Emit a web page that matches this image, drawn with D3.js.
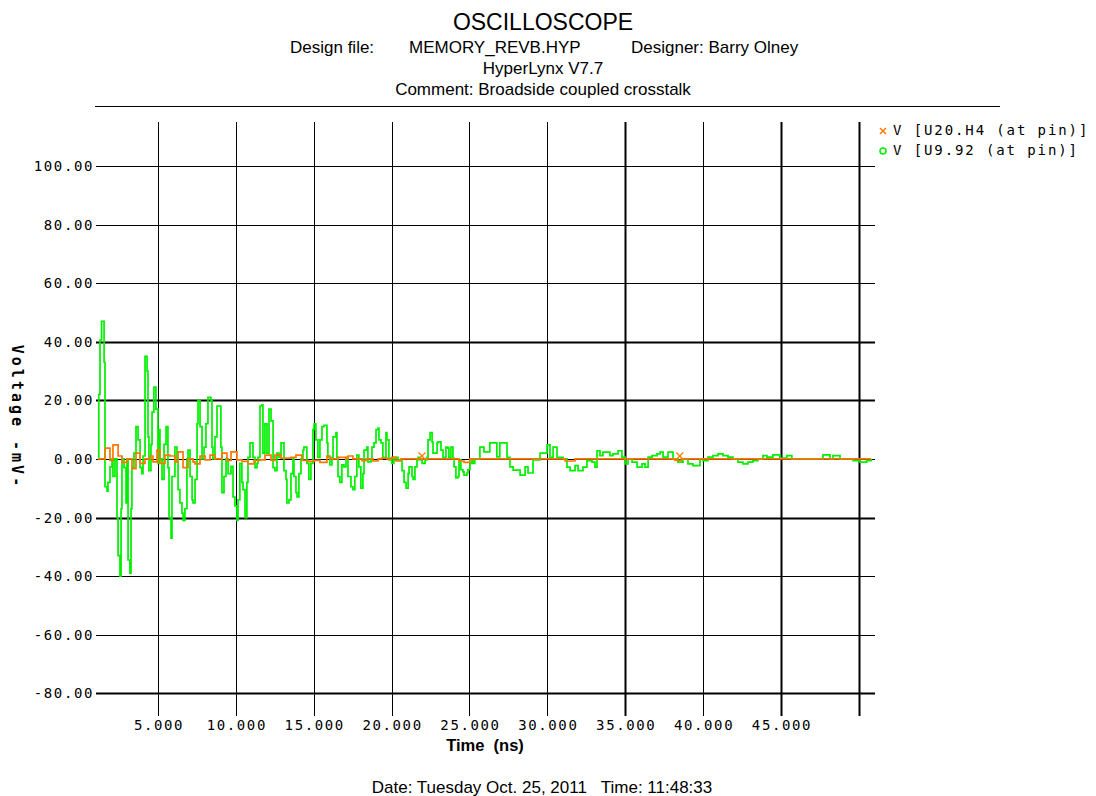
<!DOCTYPE html>
<html>
<head>
<meta charset="utf-8">
<script src="https://cdn.jsdelivr.net/npm/d3@7/dist/d3.min.js"></script>
<style>
  html, body { margin: 0; padding: 0; background: #fff; }
  svg { display: block; }
  .hdr { font-family: "Liberation Sans", Arial, sans-serif; fill: #000; }
  .mono { font-family: "DejaVu Sans Mono", "Liberation Mono", monospace; fill: #000; }
</style>
</head>
<body>
<svg id="chart" width="1096" height="796"></svg>
<script>
// ---------------- data ----------------
const yTicks = [100, 80, 60, 40, 20, 0, -20, -40, -60, -80];
const yTickLabels = ["100.00", "80.00", "60.00", "40.00", "20.00", "0.00", "-20.00", "-40.00", "-60.00", "-80.00"];
const xTicks = [5, 10, 15, 20, 25, 30, 35, 40, 45, 50];
const xTickLabels = ["5.000", "10.000", "15.000", "20.000", "25.000", "30.000", "35.000", "40.000", "45.000", ""];
const thickY = [40, 20, -20, -80];
const thickX = [35, 45, 50];

const seriesNames = ["V [U20.H4 (at pin)]", "V [U9.92 (at pin)]"];

// green: V [U9.92 (at pin)]  time (ns), mV
const greenT = [1.15,1.20,1.28,1.38,1.54,1.60,1.73,1.79,1.92,2.05,2.11,2.24,2.37,2.44,2.56,2.63,2.69,2.82,2.95,3.01,3.08,3.20,3.27,3.33,3.46,3.59,3.72,3.85,3.97,4.04,4.17,4.30,4.36,4.42,4.55,4.62,4.74,4.87,5.00,5.07,5.13,5.26,5.39,5.52,5.64,5.71,5.84,5.90,6.09,6.22,6.29,6.41,6.54,6.61,6.73,6.86,6.93,7.06,7.19,7.25,7.38,7.51,7.57,7.70,7.83,7.96,8.08,8.21,8.40,8.47,8.53,8.66,8.79,9.04,9.11,9.24,9.37,9.50,9.69,9.82,9.94,10.07,10.14,10.26,10.39,10.46,10.59,10.71,10.78,10.91,11.10,11.23,11.36,11.42,11.55,11.68,11.74,11.87,12.00,12.13,12.26,12.39,12.51,12.64,12.77,12.90,13.09,13.22,13.28,13.41,13.54,13.67,13.73,13.86,13.93,14.05,14.18,14.31,14.37,14.56,14.69,14.82,14.95,15.02,15.14,15.27,15.40,15.53,15.66,15.85,15.91,16.04,16.17,16.24,16.43,16.49,16.56,16.68,16.81,16.94,17.07,17.20,17.39,17.52,17.64,17.77,17.90,18.03,18.16,18.23,18.42,18.48,18.68,18.74,18.87,19.00,19.13,19.19,19.32,19.44,19.64,19.70,19.83,19.96,20.02,20.15,20.41,20.67,20.80,20.93,21.06,21.12,21.31,21.38,21.50,21.63,21.70,21.83,21.96,22.15,22.27,22.34,22.47,22.60,22.66,22.79,22.92,22.98,23.17,23.30,23.49,23.62,23.68,23.81,23.94,24.01,24.13,24.26,24.33,24.45,24.58,24.65,24.84,24.90,25.03,25.16,25.22,25.34,25.67,25.93,26.31,26.76,26.95,27.41,27.60,27.80,28.25,28.57,28.76,29.08,29.53,29.98,30.17,30.37,30.62,31.01,31.26,31.46,31.78,31.97,32.29,32.54,32.87,33.06,33.19,33.38,33.57,34.02,34.21,34.54,34.79,34.99,35.18,35.44,35.76,36.08,36.27,36.47,36.72,37.04,37.24,37.43,37.75,38.07,38.39,38.71,39.03,39.35,39.80,39.99,40.31,40.63,40.96,41.28,41.60,41.92,42.24,42.56,42.88,43.20,43.52,43.84,44.10,44.48,44.93,45.38,45.70,47.70,48.15,48.34,48.79,49.63,50.08,50.50,50.80];
const greenV = [0,22,40.6,47,33,-9.5,-11,-8,-2.7,0,-6,0,-20,-33,-40,-17,0,-3,-15,0,-34.5,-39,-17,-3,2,11,6.5,-3,-5,1,35,30,7.5,-4,5,16,24.5,17,-1.5,10,0,-7,5,11,-3,-20,-27,-6,4,-1,-10.5,-15,-18.5,-21,-17,0,3,-6,-14,-15,-7,12,20,11,0,4,12,21,20,4,0,7.5,18,4,-11.5,-6,0,-5,-2.5,-13,-16,-21,-14,-1.5,-8,-10.5,-20,-8,0.5,5.5,0.5,-3,-1.5,0.5,18,18.5,2,12,2,17,13,-3,-4,2,0.5,5.5,-4,-7,-15,-14,-5,0,-6,-11.5,-13,-5,0,3,4,-1.5,-7,-1.5,10,12,6.5,0.5,6.5,11,11.5,5.5,0.5,-2,0.5,7.5,9,0.5,-6,-8,-2,-2.7,0.5,-6,-9.5,-10.5,-6,1.3,-2.7,-10,-5,3,4,-1,-0.3,4,5.5,10,10.5,6.5,5.5,0.5,9,6.5,-0.3,0.3,-1.5,0.5,-0.3,-4,-8,-10,-5,-2.7,-6,-7,-2.7,-0.3,0.5,-0.3,-1.5,-0.3,0.5,6.5,9,5.8,2,2,5.5,5.8,3,0.5,4,3.7,0.5,4,0.3,-2.7,-6.5,-6,-0.3,-3.7,-4.4,-5.5,-4.8,-3.7,-1.5,-0.3,-1.5,0,4,2.4,5.5,0.7,5.5,0.5,-2.7,-3.8,-5.5,-2.7,-4.8,-0.3,2,4.8,0.5,4,0.5,0,-2.8,-4,-2.3,-4,-2.8,-0.6,-1.1,-2.8,2.8,1.1,2.3,1.1,1.7,2.8,0.6,-1.7,0,-1.1,-2.8,-1.7,-2.8,0.6,1.1,1.7,2.3,0.6,2.3,0,-1.1,0,-1.7,-2.3,0,-0.6,0.6,1.1,1.7,1.1,0.6,0,-1.1,-1.7,-1.1,-0.6,0,1.1,0.6,1.4,0.3,1.1,0,1.4,0,1.1,0,-0.6,-1.1,-0.6,0];

// orange: V [U20.H4 (at pin)]  time (ns), mV
const orangeT = [1.15,1.60,1.92,2.11,2.44,2.69,3.01,3.33,3.59,3.85,4.17,4.49,4.68,4.94,5.13,5.45,5.77,6.09,6.29,6.61,6.93,7.25,7.38,7.70,8.02,8.34,8.66,9.11,9.43,9.69,10.07,10.39,10.78,11.17,11.55,11.87,12.26,12.51,12.90,13.54,13.86,14.24,14.63,15.02,15.40,15.85,16.04,16.56,17.07,17.20,17.52,18.10,18.36,18.81,19.13,19.38,19.70,20.02,20.28,20.60,24.33,24.65,25.03,31.14,31.78,38.20,38.60,50.80];
const orangeV = [0,3.7,-0.5,4.8,1,-1.2,0,-3.3,2,-1.5,0,1,-1,3,-1.5,1.3,1,-1,2.4,-3,0,-1,-1.7,1,-0.3,1.3,0,2,-0.5,2.4,-0.3,-0.8,-1.7,-0.5,-0.3,1.3,-0.5,1.3,0.3,0.5,1.3,-0.5,-0.8,-0.5,-1.2,1,0,0.5,0,1,0,-0.6,0,-0.7,0,0.3,0,0.5,-0.7,0,-0.7,-1.2,0,-0.7,0,-0.5,0,0];
const orangeMarkerT = [21.95, 38.5];
const orangeMarkerV = [1.0, 1.0];

// ---------------- drawing ----------------
const svg = d3.select("#chart");
const x = d3.scaleLinear().domain([1.15, 50.8]).range([98, 871.3]);
const y = d3.scaleLinear().domain([-87.4, 115]).range([715, 122]);

// header
const hdr = svg.append("g").attr("class", "hdr");
hdr.append("text").attr("x", 543).attr("y", 30).attr("text-anchor", "middle")
  .attr("font-size", 23).text("OSCILLOSCOPE");
hdr.append("text").attr("x", 290).attr("y", 53).attr("font-size", 17).text("Design file:");
hdr.append("text").attr("x", 409).attr("y", 53).attr("font-size", 17).text("MEMORY_REVB.HYP");
hdr.append("text").attr("x", 631).attr("y", 53).attr("font-size", 17).text("Designer: Barry Olney");
hdr.append("text").attr("x", 543).attr("y", 74).attr("text-anchor", "middle").attr("font-size", 17).text("HyperLynx V7.7");
hdr.append("text").attr("x", 543).attr("y", 95).attr("text-anchor", "middle").attr("font-size", 17).text("Comment: Broadside coupled crosstalk");
svg.append("line").attr("x1", 95).attr("x2", 1000).attr("y1", 106.5).attr("y2", 106.5)
  .attr("stroke", "#000").attr("stroke-width", 1);

// grid
const grid = svg.append("g");
grid.selectAll("line.h").data(yTicks).join("line")
  .attr("x1", 96).attr("x2", 875)
  .attr("y1", d => Math.round(y(d)) + 0.5).attr("y2", d => Math.round(y(d)) + 0.5)
  .attr("stroke", "#000").attr("stroke-width", d => thickY.includes(d) ? 2 : 1);
grid.selectAll("line.v").data(xTicks).join("line")
  .attr("x1", d => Math.round(x(d)) + 0.5).attr("x2", d => Math.round(x(d)) + 0.5)
  .attr("y1", 122).attr("y2", 716)
  .attr("stroke", "#000").attr("stroke-width", d => thickX.includes(d) ? 2 : 1);

// tick labels
svg.append("g").attr("class", "mono").selectAll("text").data(yTicks).join("text")
  .attr("x", 94).attr("y", d => y(d) + 5).attr("text-anchor", "end")
  .attr("font-size", 14).attr("letter-spacing", 1.6)
  .text((d, i) => yTickLabels[i]);
svg.append("g").attr("class", "mono").selectAll("text").data(xTicks).join("text")
  .attr("x", d => x(d) + 1).attr("y", 730).attr("text-anchor", "middle")
  .attr("font-size", 14).attr("letter-spacing", 1.6)
  .text((d, i) => xTickLabels[i]);

// axis titles
svg.append("text").attr("class", "mono").attr("font-weight", "bold")
  .attr("transform", "translate(12,417) rotate(90)").attr("text-anchor", "middle")
  .attr("font-size", 15).attr("letter-spacing", 3).text("Voltage -mV-");
svg.append("text").attr("class", "hdr").attr("font-weight", "bold")
  .attr("x", 485).attr("y", 751).attr("text-anchor", "middle").attr("font-size", 16.5)
  .attr("xml:space", "preserve").text("Time  (ns)");

// footer
svg.append("text").attr("class", "hdr").attr("x", 542).attr("y", 793).attr("text-anchor", "middle")
  .attr("font-size", 17).attr("xml:space", "preserve").text("Date: Tuesday Oct. 25, 2011   Time: 11:48:33");

// traces
const line = d3.line().x(d => x(d[0])).y(d => y(d[1])).curve(d3.curveStepAfter);
const greenData = greenT.map((t, i) => [t, greenV[i]]);
const orangeData = orangeT.map((t, i) => [t, orangeV[i]]);
svg.append("path").datum(greenData).attr("d", line)
  .attr("fill", "none").attr("stroke", "#00f000").attr("stroke-width", 1.7);
svg.append("path").datum(orangeData).attr("d", line)
  .attr("fill", "none").attr("stroke", "#ff7700").attr("stroke-width", 1.7);

// markers on orange trace
const xMark = (g, cx, cy, s) => {
  g.append("line").attr("x1", cx - s).attr("y1", cy - s).attr("x2", cx + s).attr("y2", cy + s);
  g.append("line").attr("x1", cx - s).attr("y1", cy + s).attr("x2", cx + s).attr("y2", cy - s);
};
const mk = svg.append("g").attr("stroke", "#ff7700").attr("stroke-width", 1.2);
orangeMarkerT.forEach((t, i) => xMark(mk, x(t), y(orangeMarkerV[i]), 3.5));

// legend
const lg = svg.append("g");
const lgm = lg.append("g").attr("stroke", "#ff7700").attr("stroke-width", 1.5);
xMark(lgm, 883, 131, 3);
lg.append("circle").attr("cx", 883).attr("cy", 151).attr("r", 3)
  .attr("fill", "none").attr("stroke", "#00f000").attr("stroke-width", 1.5);
lg.selectAll("text").data(seriesNames).join("text").attr("class", "mono")
  .attr("x", 893).attr("y", (d, i) => 135 + i * 20)
  .attr("font-size", 14).attr("letter-spacing", 1.9).attr("xml:space", "preserve")
  .text(d => d);
</script>
</body>
</html>
